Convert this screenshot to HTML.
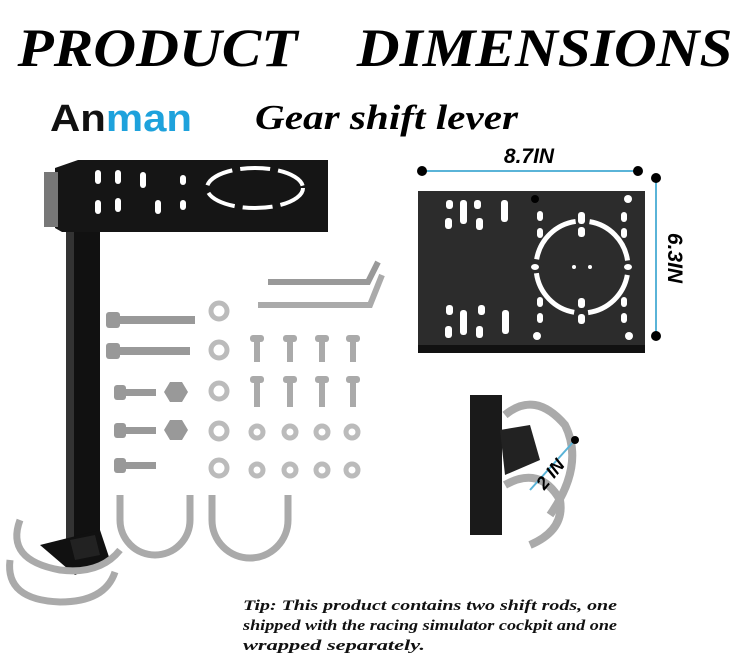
<!DOCTYPE html>
<html><head><style>
body{margin:0;background:#fff;width:750px;height:667px;overflow:hidden}
svg{display:block}
</style></head><body>
<svg width="750" height="667" viewBox="0 0 750 667" xmlns="http://www.w3.org/2000/svg">
<text x="375" y="66" text-anchor="middle" font-family="Liberation Serif, serif" font-style="italic" font-weight="bold" font-size="54" fill="#000" textLength="715" lengthAdjust="spacingAndGlyphs" xml:space="preserve">PRODUCT    DIMENSIONS</text>
<text x="50" y="131" font-family="Liberation Sans, sans-serif" font-weight="bold" font-size="38" textLength="142" lengthAdjust="spacingAndGlyphs"><tspan fill="#111">An</tspan><tspan fill="#1ea2dc">man</tspan></text>
<text x="255" y="129" font-family="Liberation Serif, serif" font-style="italic" font-weight="bold" font-size="35" fill="#000" textLength="263" lengthAdjust="spacingAndGlyphs">Gear shift lever</text>

<!-- left bracket -->
<polygon points="55,168 78,160 328,160 328,232 62,232 55,228" fill="#151515"/>
<rect x="44" y="172" width="14" height="55" fill="#777"/>
<g fill="#fff">
<rect x="95" y="170" width="6" height="14" rx="3"/><rect x="115" y="170" width="6" height="14" rx="3"/><rect x="140" y="172" width="6" height="16" rx="3"/>
<rect x="95" y="200" width="6" height="14" rx="3"/><rect x="115" y="198" width="6" height="14" rx="3"/><rect x="155" y="200" width="6" height="14" rx="3"/>
<rect x="180" y="175" width="6" height="10" rx="3"/><rect x="180" y="200" width="6" height="10" rx="3"/>
</g>
<ellipse cx="255" cy="188" rx="48" ry="20" fill="none" stroke="#fff" stroke-width="4" stroke-dasharray="30 8"/>
<rect x="66" y="232" width="34" height="330" fill="#111"/>
<rect x="66" y="232" width="8" height="330" fill="#333"/>
<polygon points="40,545 100,530 110,560 75,575" fill="#111"/>
<path d="M20,520 q-15,40 40,50 q40,5 60,-20" fill="none" stroke="#aaa" stroke-width="7"/>
<path d="M10,560 q-5,40 50,42 q45,0 55,-30" fill="none" stroke="#aaa" stroke-width="7"/>
<polygon points="70,540 95,535 100,555 75,560" fill="#222"/>

<!-- hex keys -->
<path d="M268,282 L368,282 L378,262" fill="none" stroke="#999" stroke-width="6"/>
<path d="M258,305 L370,305 L382,275" fill="none" stroke="#aaa" stroke-width="6"/>
<!-- screws -->
<g fill="#999">
<rect x="106" y="312" width="14" height="16" rx="3"/><rect x="120" y="316" width="75" height="8"/>
<rect x="106" y="343" width="14" height="16" rx="3"/><rect x="120" y="347" width="70" height="8"/>
<rect x="114" y="385" width="12" height="15" rx="3"/><rect x="126" y="389" width="30" height="7"/>
<rect x="114" y="423" width="12" height="15" rx="3"/><rect x="126" y="427" width="30" height="7"/>
<rect x="114" y="458" width="12" height="15" rx="3"/><rect x="126" y="462" width="30" height="7"/>
<polygon points="170,382 182,382 188,392 182,402 170,402 164,392"/>
<polygon points="170,420 182,420 188,430 182,440 170,440 164,430"/>
</g>
<g fill="none" stroke="#bbb" stroke-width="5">
<circle cx="219" cy="311" r="8"/><circle cx="219" cy="350" r="8"/><circle cx="219" cy="391" r="8"/><circle cx="219" cy="431" r="8"/><circle cx="219" cy="468" r="8"/>
<circle cx="257" cy="432" r="6"/><circle cx="290" cy="432" r="6"/><circle cx="322" cy="432" r="6"/><circle cx="352" cy="432" r="6"/>
<circle cx="257" cy="470" r="6"/><circle cx="290" cy="470" r="6"/><circle cx="322" cy="470" r="6"/><circle cx="352" cy="470" r="6"/>
</g>
<g fill="#aaa">
<rect x="250" y="335" width="14" height="7" rx="3"/><rect x="254" y="342" width="6" height="20"/>
<rect x="283" y="335" width="14" height="7" rx="3"/><rect x="287" y="342" width="6" height="20"/>
<rect x="315" y="335" width="14" height="7" rx="3"/><rect x="319" y="342" width="6" height="20"/>
<rect x="346" y="335" width="14" height="7" rx="3"/><rect x="350" y="342" width="6" height="20"/>
<rect x="250" y="376" width="14" height="7" rx="3"/><rect x="254" y="383" width="6" height="24"/>
<rect x="283" y="376" width="14" height="7" rx="3"/><rect x="287" y="383" width="6" height="24"/>
<rect x="315" y="376" width="14" height="7" rx="3"/><rect x="319" y="383" width="6" height="24"/>
<rect x="346" y="376" width="14" height="7" rx="3"/><rect x="350" y="383" width="6" height="24"/>
</g>
<!-- U bolts -->
<path d="M120,495 L120,520 a35,35 0 0 0 70,0 L190,495" fill="none" stroke="#aaa" stroke-width="7"/>
<path d="M212,495 L212,520 a38,38 0 0 0 76,0 L288,495" fill="none" stroke="#aaa" stroke-width="7"/>

<!-- right plate -->
<line x1="422" y1="171" x2="638" y2="171" stroke="#5ab4d8" stroke-width="2"/>
<circle cx="422" cy="171" r="5"/><circle cx="638" cy="171" r="5"/>
<line x1="656" y1="180" x2="656" y2="336" stroke="#5ab4d8" stroke-width="2"/>
<circle cx="656" cy="178" r="5"/><circle cx="656" cy="336" r="5"/>
<text x="529" y="163" text-anchor="middle" font-family="Liberation Sans, sans-serif" font-style="italic" font-weight="bold" font-size="21">8.7IN</text>
<text transform="translate(668,258) rotate(90)" text-anchor="middle" font-family="Liberation Sans, sans-serif" font-style="italic" font-weight="bold" font-size="21">6.3IN</text>
<rect x="418" y="191" width="227" height="162" fill="#2c2c2c"/>
<rect x="418" y="345" width="227" height="8" fill="#111"/>
<g fill="#fff">
<rect x="446" y="200" width="7" height="9" rx="3"/><rect x="460" y="200" width="7" height="24" rx="3"/><rect x="474" y="200" width="7" height="9" rx="3"/><rect x="501" y="200" width="7" height="22" rx="3"/>
<rect x="445" y="218" width="7" height="11" rx="3"/><rect x="476" y="218" width="7" height="12" rx="3"/>
<rect x="446" y="305" width="7" height="10" rx="3"/><rect x="460" y="310" width="7" height="25" rx="3"/><rect x="478" y="305" width="7" height="10" rx="3"/><rect x="502" y="310" width="7" height="24" rx="3"/>
<rect x="445" y="326" width="7" height="12" rx="3"/><rect x="476" y="326" width="7" height="12" rx="3"/>
<rect x="537" y="211" width="6" height="10" rx="3"/><rect x="578" y="212" width="7" height="12" rx="3"/><rect x="621" y="212" width="6" height="10" rx="3"/>
<rect x="537" y="228" width="6" height="10" rx="3"/><rect x="578" y="227" width="7" height="10" rx="3"/><rect x="621" y="228" width="6" height="10" rx="3"/>
<rect x="537" y="297" width="6" height="10" rx="3"/><rect x="578" y="298" width="7" height="10" rx="3"/><rect x="621" y="297" width="6" height="10" rx="3"/>
<rect x="537" y="313" width="6" height="10" rx="3"/><rect x="578" y="314" width="7" height="10" rx="3"/><rect x="621" y="313" width="6" height="10" rx="3"/>
<circle cx="537" cy="336" r="4"/><circle cx="629" cy="336" r="4"/>
<ellipse cx="535" cy="267" rx="4" ry="3"/><ellipse cx="628" cy="267" rx="4" ry="3"/>
<circle cx="574" cy="267" r="2"/><circle cx="590" cy="267" r="2"/>
</g>
<circle cx="582" cy="267" r="46" fill="none" stroke="#fff" stroke-width="5" stroke-dasharray="58 14" stroke-dashoffset="-8"/>
<circle cx="535" cy="199" r="4" fill="#000"/><circle cx="628" cy="199" r="4" fill="#fff"/>

<!-- small clamp -->
<rect x="470" y="395" width="32" height="140" fill="#1a1a1a"/>
<path d="M505,415 q30,-25 60,10 q20,40 -15,90" fill="none" stroke="#aaa" stroke-width="8"/>
<path d="M505,485 q35,-20 55,15 q5,30 -30,45" fill="none" stroke="#aaa" stroke-width="8"/>
<polygon points="500,430 530,425 540,460 505,475" fill="#222"/>
<line x1="530" y1="490" x2="575" y2="440" stroke="#5ab4d8" stroke-width="2"/>
<circle cx="575" cy="440" r="4"/>
<text transform="translate(555,478) rotate(-50)" text-anchor="middle" font-family="Liberation Sans, sans-serif" font-style="italic" font-weight="bold" font-size="18">2 IN</text>

<g font-family="Liberation Serif, serif" font-style="italic" font-weight="bold" font-size="15" fill="#111">
<text x="243" y="610" textLength="374" lengthAdjust="spacingAndGlyphs">Tip: This product contains two shift rods, one</text>
<text x="243" y="630" textLength="374" lengthAdjust="spacingAndGlyphs">shipped with the racing simulator cockpit and one</text>
<text x="243" y="650" textLength="182" lengthAdjust="spacingAndGlyphs">wrapped separately.</text>
</g>
</svg>
</body></html>
